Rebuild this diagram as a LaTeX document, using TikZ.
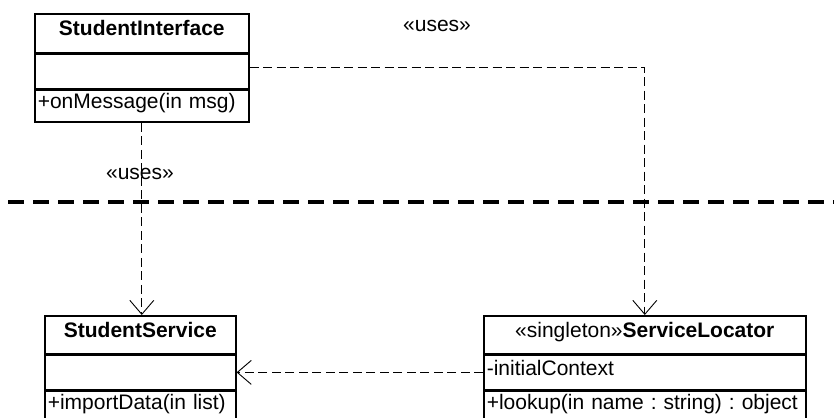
\documentclass[tikz,border=0pt]{standalone}
\usepackage{fontspec}
\setmainfont{Liberation Sans}
\usetikzlibrary{arrows.meta}

\begin{document}
\frenchspacing
\begin{tikzpicture}[x=1pt,y=-1pt,
  every node/.style={font=\fontsize{21}{24}\selectfont},
  part/.style={draw=black, line width=1.6pt, inner xsep=3pt, inner ysep=0pt,
    minimum height=#1, text height=0.72em, text depth=0.2em},
  ops/.style={align=left, text width=#1},
  dep/.style={draw=black, line width=0.9pt, dash pattern=on 9pt off 4.5pt,
    -{Straight Barb[length=14pt,width=24pt,line width=0.9pt]}},
  boundary/.style={draw=black, line width=3.2pt, dash pattern=on 16pt off 9pt},
  stereo/.style={anchor=base}]
\useasboundingbox (0,0) rectangle (834,417);

% StudentInterface
\node[part=39, minimum width=214, anchor=north west] (si) at (34,13) {\textbf{StudentInterface}};
\node[part=34, minimum width=214, anchor=north] (si-a) at (si.south) {};
\node[part=32, minimum width=214, anchor=north, ops=208] (si-o) at (si-a.south) {+onMessage(in msg)};

% StudentService
\node[part=38, minimum width=191, anchor=north west] (ss) at (44,315) {\textbf{StudentService}};
\node[part=34, minimum width=191, anchor=north] (ss-a) at (ss.south) {};
\node[part=31, minimum width=191, anchor=north, ops=185] (ss-o) at (ss-a.south) {+importData(in list)};

% ServiceLocator
\node[part=38, minimum width=322, anchor=north west] (sl) at (483,315) {«singleton»\textbf{ServiceLocator}};
\node[part=34, minimum width=322, anchor=north, ops=316] (sl-a) at (sl.south) {-initialContext};
\node[part=31, minimum width=322, anchor=north, ops=316] (sl-o) at (sl-a.south) {+lookup(in name : string) : object};

% layer boundary
\coordinate (b1) at (8,202);
\coordinate (b2) at (834,202);
\draw[boundary] (b1) -- (b2);

% dependencies
\draw[dep] ([yshift=4pt]si-a.east) -| (sl.north);
\draw[dep] (si-o.south) -- (si-o.south |- ss.north);
\draw[dep] (sl-a.west) -- (sl-a.west -| ss-a.east);

% stereotype labels
\node[stereo] (u1) at (437,32) {«uses»};
\node[stereo] (u2) at (140,179) {«uses»};
\end{tikzpicture}
\end{document}
